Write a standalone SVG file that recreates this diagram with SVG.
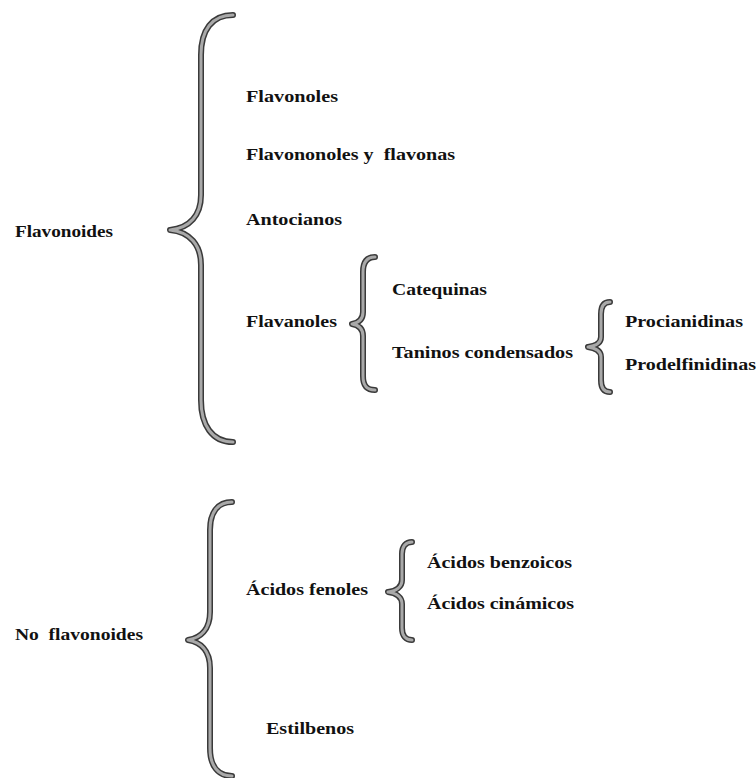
<svg xmlns="http://www.w3.org/2000/svg" width="756" height="778" viewBox="0 0 756 778">
<style>
.t{font-family:"Liberation Serif","Times New Roman",serif;font-weight:bold;font-size:16px;fill:#111;white-space:pre}
.bo{fill:none;stroke:#3a3a3a;stroke-width:6;stroke-linecap:round;stroke-linejoin:round}
.bi{fill:none;stroke:#a9a9a9;stroke-width:3;stroke-linecap:round;stroke-linejoin:round}
</style>
<defs>
<path id="b1" d="M233,15 C212,15 201,30 201,55 L201,195 C201,215 190,228 170,230 C190,232 201,245 201,265 L201,400 C201,425 212,442 233,442"/>
<path id="b2" d="M375,257 C367,257 363,262 363,272 L363,312 C363,320 358,323 352,324 C358,325 363,328 363,336 L363,376 C363,386 367,390 375,390"/>
<path id="b3" d="M610,302 C604,302 601,306 601,314 L601,337 C601,343 595,346 588,347 C595,348 601,351 601,357 L601,380 C601,388 604,392 610,392"/>
<path id="b4" d="M232,502 C218,502 210,512 210,530 L210,612 C210,630 200,638 188,640 C200,642 210,650 210,668 L210,748 C210,766 218,776 232,776"/>
<path id="b5" d="M412,542 C406,542 402,546 402,554 L402,580 C402,587 396,591 388,592 C396,593 402,597 402,604 L402,628 C402,636 406,640 412,640"/>
</defs>
<g id="connectors">
<use href="#b1" class="bo"/><use href="#b1" class="bi"/>
<use href="#b2" class="bo"/><use href="#b2" class="bi"/>
<use href="#b3" class="bo"/><use href="#b3" class="bi"/>
<use href="#b4" class="bo"/><use href="#b4" class="bi"/>
<use href="#b5" class="bo"/><use href="#b5" class="bi"/>
</g>
<g id="flavonoides"><text class="t" x="15" y="237" textLength="98" lengthAdjust="spacingAndGlyphs">Flavonoides</text></g>
<g id="flavonoles"><text class="t" x="246" y="102" textLength="92" lengthAdjust="spacingAndGlyphs">Flavonoles</text></g>
<g id="flavononoles"><text class="t" x="246" y="160" textLength="209" lengthAdjust="spacingAndGlyphs">Flavononoles y  flavonas</text></g>
<g id="antocianos"><text class="t" x="246" y="225" textLength="96" lengthAdjust="spacingAndGlyphs">Antocianos</text></g>
<g id="flavanoles"><text class="t" x="246" y="327" textLength="91" lengthAdjust="spacingAndGlyphs">Flavanoles</text></g>
<g id="catequinas"><text class="t" x="392" y="295" textLength="95" lengthAdjust="spacingAndGlyphs">Catequinas</text></g>
<g id="taninos"><text class="t" x="392" y="358" textLength="181" lengthAdjust="spacingAndGlyphs">Taninos condensados</text></g>
<g id="procianidinas"><text class="t" x="625" y="327" textLength="118" lengthAdjust="spacingAndGlyphs">Procianidinas</text></g>
<g id="prodelfinidinas"><text class="t" x="625" y="370" textLength="131" lengthAdjust="spacingAndGlyphs">Prodelfinidinas</text></g>
<g id="noflavonoides"><text class="t" x="15" y="640" textLength="128" lengthAdjust="spacingAndGlyphs">No  flavonoides</text></g>
<g id="acidosfenoles"><text class="t" x="246" y="595" textLength="122" lengthAdjust="spacingAndGlyphs">Ácidos fenoles</text></g>
<g id="benzoicos"><text class="t" x="427" y="568" textLength="145" lengthAdjust="spacingAndGlyphs">Ácidos benzoicos</text></g>
<g id="cinamicos"><text class="t" x="427" y="609" textLength="147" lengthAdjust="spacingAndGlyphs">Ácidos cinámicos</text></g>
<g id="estilbenos"><text class="t" x="266" y="734" textLength="88" lengthAdjust="spacingAndGlyphs">Estilbenos</text></g>
</svg>
